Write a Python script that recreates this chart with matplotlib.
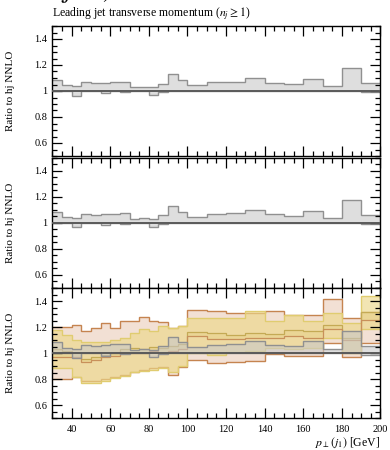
import numpy as np
import matplotlib.pyplot as plt
from matplotlib.ticker import MultipleLocator, FixedLocator, FixedFormatter

plt.rcParams['font.family'] = ['Liberation Serif', 'DejaVu Serif']
plt.rcParams['mathtext.fontset'] = 'stix'

# bin edges in GeV
edges = [30, 35, 40, 45, 50, 55, 60, 65, 70, 75, 80, 85, 90, 95, 100,
         110, 120, 130, 140, 150, 160, 170, 180, 190, 200]

# hj NNLO band (ratio to its own central value)
nnlo_hi = [1.085, 1.044, 1.036, 1.067, 1.059, 1.064, 1.069, 1.072, 1.028, 1.033, 1.028, 1.056,
           1.128, 1.085, 1.046, 1.067, 1.072, 1.097, 1.064, 1.054, 1.092, 1.036, 1.174, 1.059]
nnlo_lo = [1.0, 1.0, 0.964, 1.0, 1.0, 0.982, 1.0, 0.992, 1.0, 1.0, 0.969, 0.992,
           1.0, 1.0, 1.0, 1.0, 1.0, 1.0, 1.0, 1.0, 1.0, 1.0, 1.0, 0.99]

# brown prediction band
brown_hi = [1.20, 1.20, 1.22, 1.172, 1.192, 1.231, 1.192, 1.249, 1.249, 1.283, 1.248, 1.238,
            1.195, 1.207, 1.335, 1.323, 1.31, 1.31, 1.323, 1.297, 1.292, 1.415, 1.27, 1.32]
brown_lo = [0.80, 0.80, 0.82, 0.79, 0.79, 0.80, 0.815, 0.835, 0.86, 0.874, 0.887, 0.895,
            0.836, 0.895, 0.951, 0.926, 0.935, 0.938, 0.995, 0.977, 0.977, 1.082, 0.975, 1.077]

# yellow prediction band
yellow_hi = [1.18, 1.14, 1.10, 1.09, 1.09, 1.09, 1.10, 1.12, 1.156, 1.19, 1.17, 1.21,
             1.195, 1.21, 1.272, 1.272, 1.272, 1.323, 1.246, 1.297, 1.25, 1.31, 1.236, 1.44]
yellow_lo = [0.89, 0.89, 0.82, 0.775, 0.775, 0.79, 0.808, 0.826, 0.858, 0.865, 0.875, 0.885,
             0.86, 0.90, 1.0, 0.99, 1.01, 1.02, 1.04, 1.03, 1.04, 1.115, 1.0, 1.185]

# narrow band between the two central values
olive_hi = [1.03, 1.02, 1.0, 0.96, 0.97, 0.99, 1.0, 1.03, 1.04, 1.03, 1.05, 1.04,
            1.06, 1.07, 1.167, 1.16, 1.14, 1.156, 1.15, 1.18, 1.174, 1.218, 1.12, 1.32]
olive_lo = [0.975, 0.975, 0.97, 0.936, 0.95, 0.97, 0.98, 1.0, 1.0, 1.0, 1.02, 1.0,
            1.02, 1.03, 1.13, 1.11, 1.11, 1.12, 1.12, 1.13, 1.12, 1.185, 1.10, 1.256]

fig = plt.figure(figsize=(3.9, 4.5), dpi=100)
L, W, H = 52.3 / 390, 328.2 / 390, 130 / 450
bottoms = [1 - 156 / 450, 1 - 287.7 / 450, 1 - 418.3 / 450]
axes = [fig.add_axes([L, b, W, H]) for b in bottoms]


def nnlo_band(ax):
    ax.stairs(nnlo_hi, edges, baseline=nnlo_lo, fill=True, color='#c8c8c8', alpha=0.6, lw=0)
    ax.stairs(nnlo_hi, edges, baseline=None, color='#909090', lw=1.0)
    ax.stairs(nnlo_lo, edges, baseline=None, color='#909090', lw=1.0)


for i, ax in enumerate(axes):
    if i == 2:
        ax.stairs(brown_hi, edges, baseline=brown_lo, fill=True, color='#f2e0d4', lw=0)
        ax.stairs(brown_hi, edges, baseline=None, color='#c58450', lw=1.0)
        ax.stairs(brown_lo, edges, baseline=None, color='#c58450', lw=1.0)
        ax.stairs(yellow_hi, edges, baseline=yellow_lo, fill=True, color='#ecd88a', alpha=0.65, lw=0)
        ax.stairs(yellow_hi, edges, baseline=None, color='#e0cc70', lw=1.0)
        ax.stairs(yellow_lo, edges, baseline=None, color='#e0cc70', lw=1.0)
        ax.stairs(olive_hi, edges, baseline=olive_lo, fill=True, color='#e4cf80', alpha=0.4, lw=0)
        ax.stairs(olive_hi, edges, baseline=None, color='#c4aa55', lw=0.9)
        ax.stairs(olive_lo, edges, baseline=None, color='#c8905a', lw=0.9)
    nnlo_band(ax)
    ax.axhline(1.0, color='#5a5a5a', lw=1.4, zorder=5)

    ax.set_xlim(30, 200)
    ax.set_ylim(0.5, 1.5)
    ax.xaxis.set_major_locator(MultipleLocator(20))
    ax.xaxis.set_minor_locator(MultipleLocator(5))
    ax.yaxis.set_major_locator(FixedLocator([0.6, 0.8, 1.0, 1.2, 1.4]))
    ax.yaxis.set_major_formatter(FixedFormatter(['0.6', '0.8', '1', '1.2', '1.4']))
    ax.yaxis.set_minor_locator(MultipleLocator(0.05))
    ax.tick_params(which='both', direction='in', top=True, right=True, width=0.9, labelsize=7.5)
    ax.tick_params(which='major', length=7)
    ax.tick_params(which='minor', length=3.5)
    for s in ax.spines.values():
        s.set_linewidth(1.0)
    ax.set_ylabel('Ratio to hj NNLO', fontsize=8)
    ax.yaxis.set_label_coords(-0.115, 0.5)
    if i < 2:
        ax.tick_params(labelbottom=False)

axes[2].set_xticks([40, 60, 80, 100, 120, 140, 160, 180, 200])
axes[2].set_xticklabels(['40', '60', '80', '100', '120', '140', '160', '180', '200'])
axes[2].tick_params(axis='x', pad=5)

fig.text(0.975, 1 - 443 / 450, r'$p_\perp(j_1)$ [GeV]', ha='right', va='center', fontsize=8.5)
fig.text(0.134, 1 - 13 / 450, r'Leading jet transverse momentum ($n_j \geq 1$)',
         ha='left', va='center', fontsize=8.5)
# large heading that sits mostly above the top edge, as in the source figure
fig.text(0.14, 1 + 3 / 450, r'$(j_1\quad)$', ha='left', va='baseline', fontsize=20)

fig.savefig('out.png', dpi=100)
